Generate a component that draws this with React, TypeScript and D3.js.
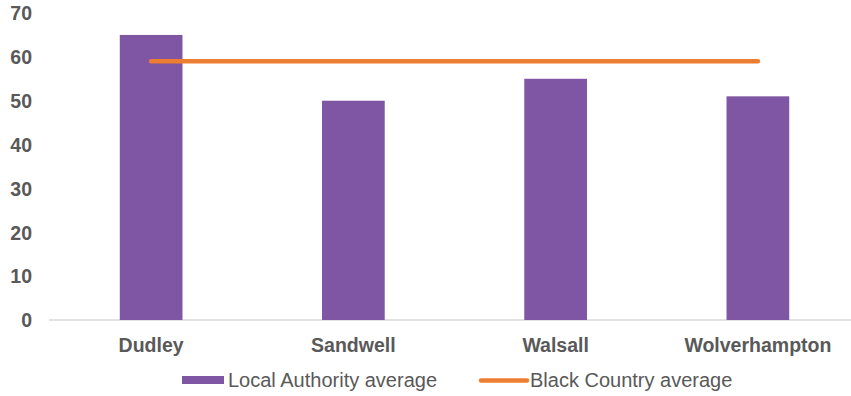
import React from "react";
import * as d3 from "d3";

const categories = ["Dudley", "Sandwell", "Walsall", "Wolverhampton"];
const localAuthority = [65, 50, 55, 51];
const blackCountry = [59, 59, 59, 59];
const yTicks = [0, 10, 20, 30, 40, 50, 60, 70];

const W = 851;
const H = 396;

export default function App() {
  const x = d3.scaleBand<string>().domain(categories).range([50, 859]).paddingInner(0.69).paddingOuter(0.345);
  const y = d3.scaleLinear().domain([0, 70]).range([320, 13]);
  const line = d3
    .line<number>()
    .x((_, i) => (x(categories[i]) as number) + x.bandwidth() / 2)
    .y((d) => y(d));
  const font = "'Liberation Sans', Arial, sans-serif";
  return (
    <svg width={W} height={H} style={{ position: "absolute", left: 0, top: 0 }}>
      <rect width={W} height={H} fill="#fff" />
      {yTicks.map((t) => (
        <text key={t} x={32} y={y(t) + 0.5} dy="0.35em" textAnchor="end" fontFamily={font} fontWeight="bold" fontSize={19.5} fill="#595959">
          {t}
        </text>
      ))}
      <line x1={49} x2={851} y1={y(0)} y2={y(0)} stroke="#D9D9D9" strokeWidth={1.5} />
      {categories.map((c, i) => (
        <rect key={c} x={x(c)} y={y(localAuthority[i])} width={x.bandwidth()} height={y(0) - y(localAuthority[i])} fill="#7F56A4" />
      ))}
      <path d={line(blackCountry) || ""} fill="none" stroke="#ED7D31" strokeWidth={4.5} strokeLinecap="round" />
      {categories.map((c) => (
        <text key={c} x={(x(c) as number) + x.bandwidth() / 2} y={345.5} dy="0.35em" textAnchor="middle" fontFamily={font} fontWeight="bold" fontSize={19.5} fill="#595959">
          {c}
        </text>
      ))}
      <rect x={182} y={376} width={42} height={8} fill="#7F56A4" />
      <text x={228} y={380} dy="0.35em" fontFamily={font} fontSize={20} fill="#595959">Local Authority average</text>
      <line x1={481} x2={527} y1={380.5} y2={380.5} stroke="#ED7D31" strokeWidth={4.5} strokeLinecap="round" />
      <text x={530} y={380} dy="0.35em" fontFamily={font} fontSize={20} fill="#595959">Black Country average</text>
    </svg>
  );
}
